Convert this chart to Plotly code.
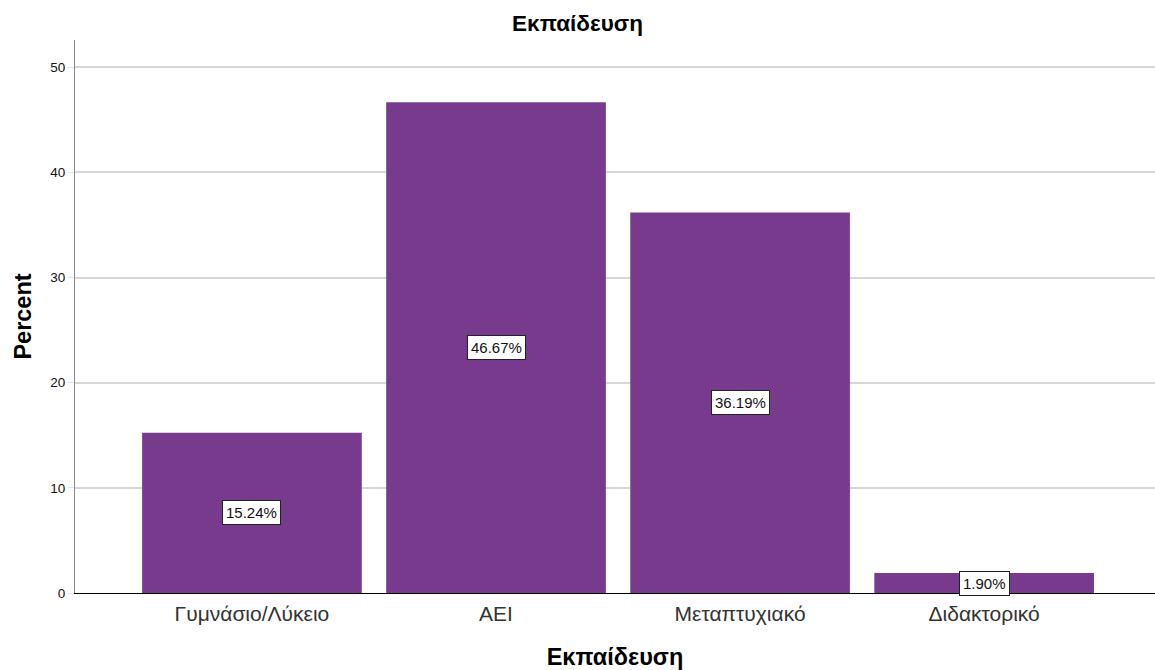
import plotly.graph_objects as go

categories = ["Γυμνάσιο/Λύκειο", "ΑΕΙ", "Μεταπτυχιακό", "Διδακτορικό"]
percents = [15.24, 46.67, 36.19, 1.90]
y_ticks = [0, 10, 20, 30, 40, 50]

bar_color = "#783a8c"
font_family = "Liberation Sans, Arial, sans-serif"

fig = go.Figure()
fig.add_trace(go.Bar(
    x=categories,
    y=percents,
    width=0.9,
    marker=dict(color=bar_color, line=dict(width=0)),
    hoverinfo="skip",
))

# Boxed value labels at the middle of each bar
for cat, val in zip(categories, percents):
    fig.add_annotation(
        x=cat, y=val / 2, text=f"{val:.2f}%", showarrow=False,
        font=dict(family=font_family, size=15, color="#111111"),
        bgcolor="white", bordercolor="#222222", borderwidth=1, borderpad=3,
    )

fig.update_layout(
    width=1155, height=670,
    margin=dict(l=75, r=0, t=40, b=77),
    paper_bgcolor="white", plot_bgcolor="white",
    showlegend=False,
    bargap=0.1,
    title=dict(text="<b>Εκπαίδευση</b>", x=0.5, xanchor="center",
               yref="container", y=1 - 23 / 670, yanchor="middle",
               font=dict(family=font_family, size=22.5, color="#000000")),
    font=dict(family=font_family),
)

fig.update_xaxes(
    range=[-0.725, 3.70],
    showline=True, linecolor="#000000", linewidth=1,
    tickfont=dict(family=font_family, size=21, color="#333333"),
    ticks="outside", ticklen=2, tickcolor="rgba(0,0,0,0)",
    showgrid=False,
    title=dict(text="<b>Εκπαίδευση</b>", font=dict(family=font_family, size=23.5, color="#000000"), standoff=26),
)

fig.update_yaxes(
    range=[0, 52.6],
    tickvals=y_ticks,
    showline=True, linecolor="#888888", linewidth=1,
    showgrid=True, gridcolor="#d6d6d6", gridwidth=2,
    zeroline=False,
    ticks="outside", ticklen=6, tickcolor="#e4e4e4",
    tickfont=dict(family=font_family, size=13.5, color="#111111"),
    title=dict(text="<b>Percent</b>", font=dict(family=font_family, size=23.5, color="#000000"), standoff=12),
)

fig.write_html("out.html")
